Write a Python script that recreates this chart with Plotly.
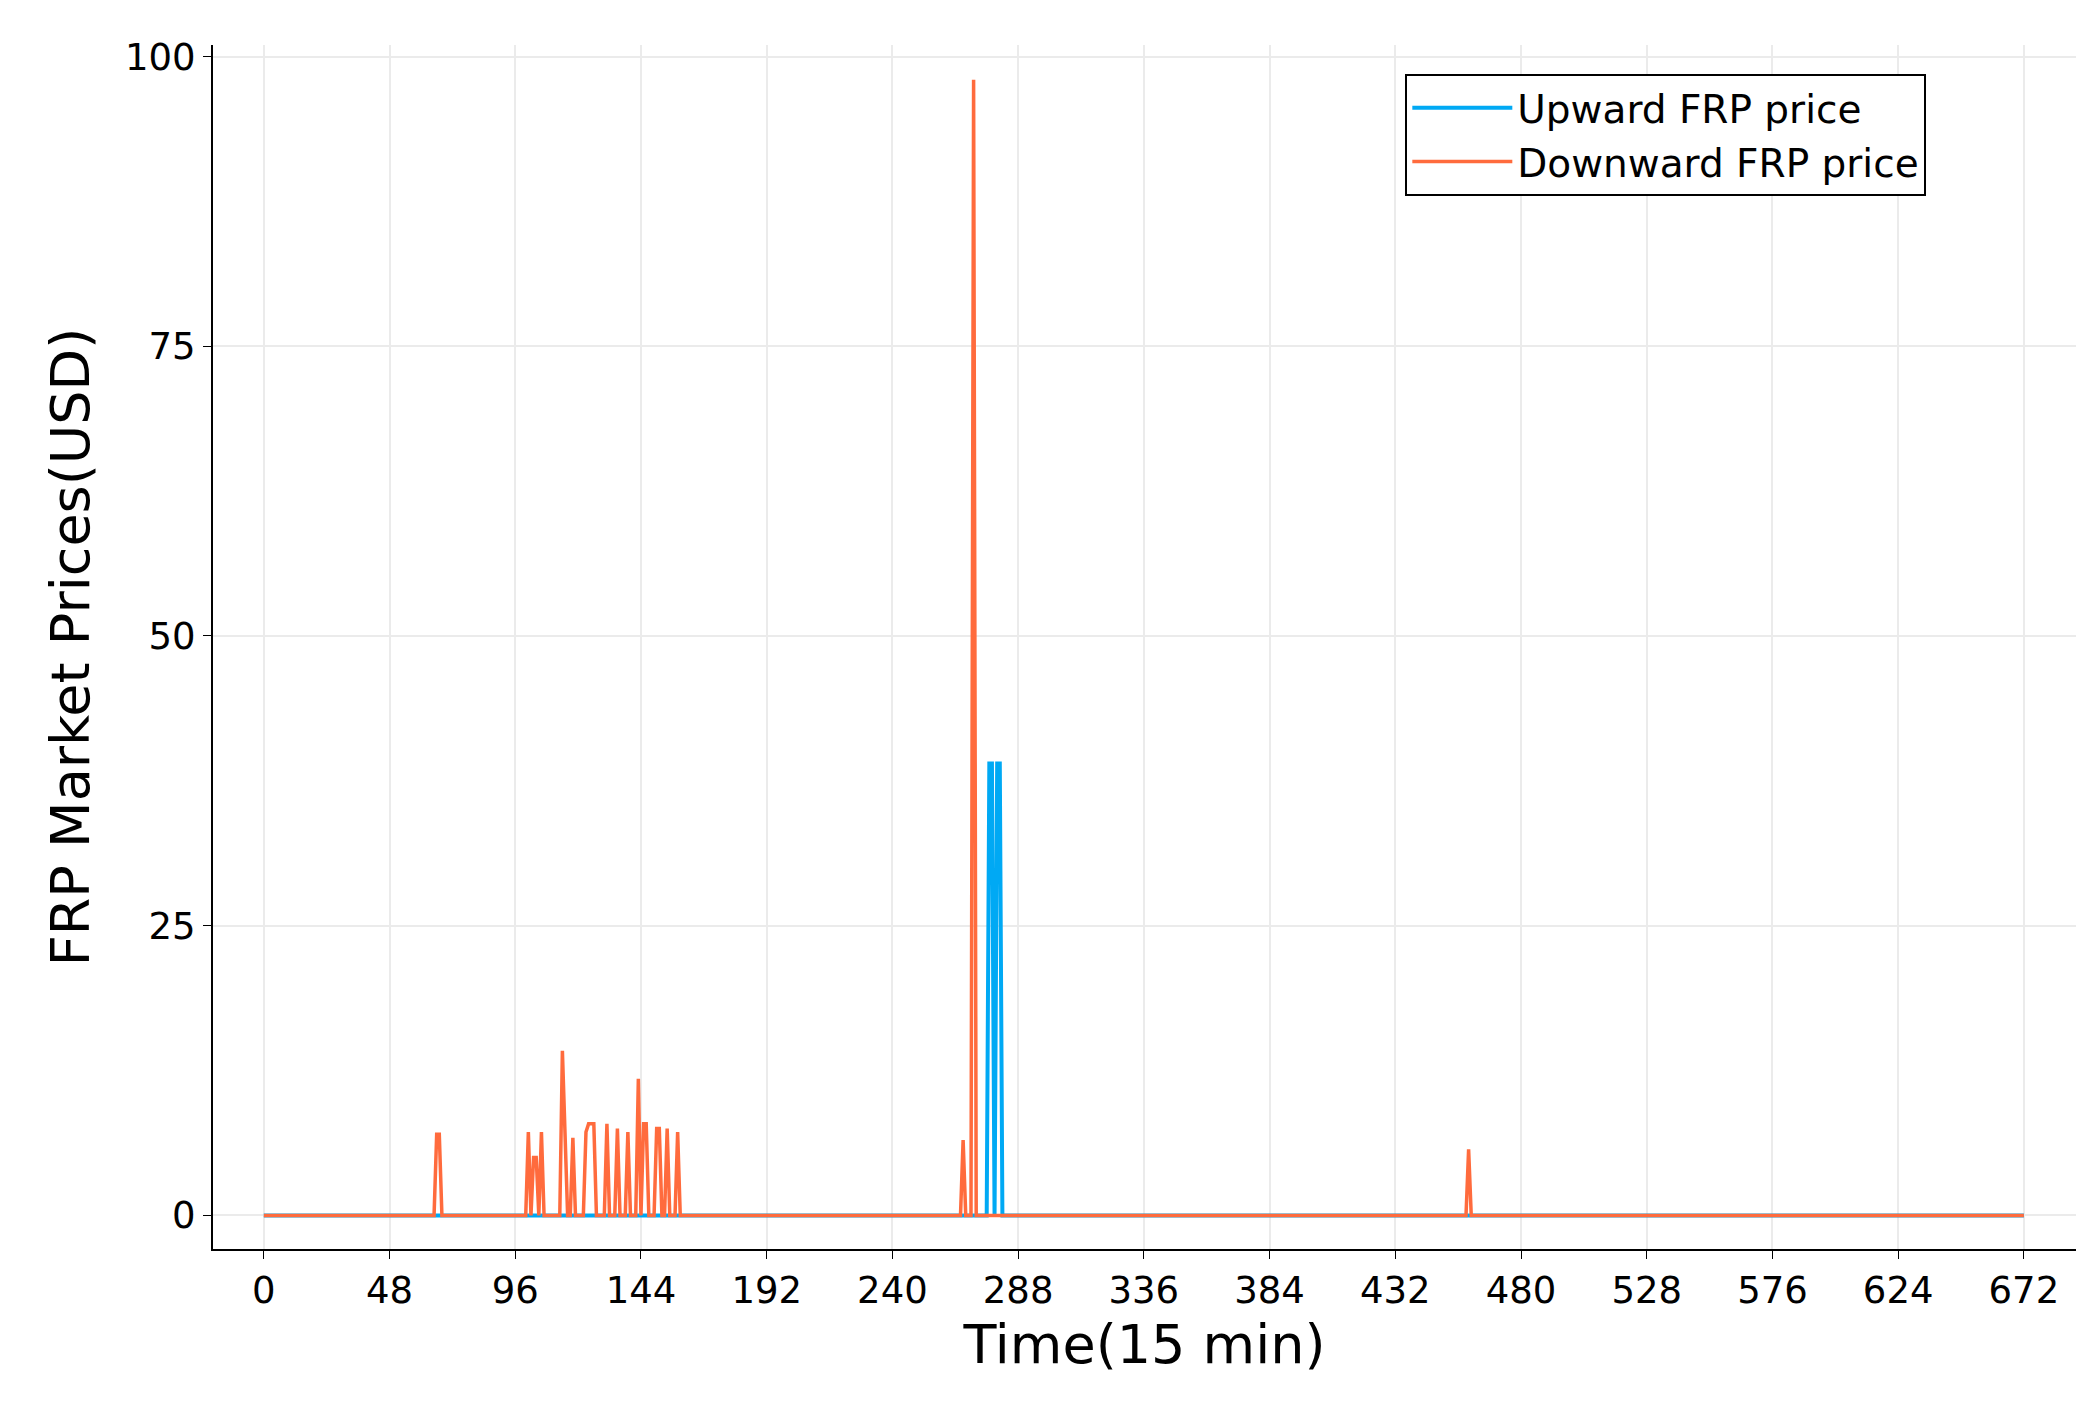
import plotly.graph_objects as go

n_steps = 673
down_idx = [66, 67, 101, 103, 104, 106, 114, 115, 118, 123, 124, 125, 126, 131, 135, 139, 143, 145, 146, 150, 151, 154, 158, 267, 271, 460]
down_val = [7.0, 7.0, 7.2, 5.0, 5.0, 7.2, 14.2, 7.5, 6.7, 7.2, 7.9, 7.9, 7.9, 7.9, 7.5, 7.2, 11.8, 7.9, 7.9, 7.5, 7.5, 7.5, 7.2, 6.5, 98.0, 5.7]
up_idx = [277, 278, 280, 281]
up_val = [39.0, 39.0, 39.0, 39.0]

x = list(range(n_steps))
down = [0.0] * n_steps
for i, v in zip(down_idx, down_val):
    down[i] = v
up = [0.0] * n_steps
for i, v in zip(up_idx, up_val):
    up[i] = v

fig = go.Figure()
fig.add_trace(go.Scatter(x=x, y=up, mode="lines", name="Upward FRP price",
                         line=dict(color="#00a9f4", width=4)))
fig.add_trace(go.Scatter(x=x, y=down, mode="lines", name="Downward FRP price",
                         line=dict(color="#ff6b3d", width=3.5)))

fig.update_layout(
    width=2092, height=1405,
    paper_bgcolor="white", plot_bgcolor="white",
    font=dict(family="DejaVu Sans", color="black", size=37),
    margin=dict(l=205, r=24, t=37, b=164),
    legend=dict(x=0.64, y=0.976, xanchor="left", yanchor="top",
                bordercolor="black", borderwidth=2, bgcolor="white",
                itemwidth=100, font=dict(size=39)),
    xaxis=dict(range=[-19.4, 691.9], tickvals=list(range(0, 673, 48)),
               showgrid=True, gridcolor="#ebebeb", gridwidth=1.5,
               showline=True, linecolor="black", linewidth=2,
               ticks="outside", ticklen=8, tickcolor="black",
               zeroline=False,
               title=dict(text="Time(15 min)", font=dict(size=54), standoff=14)),
    yaxis=dict(range=[-2.9, 101], tickvals=[0, 25, 50, 75, 100],
               showgrid=True, gridcolor="#ebebeb", gridwidth=1.5,
               showline=True, linecolor="black", linewidth=2,
               ticks="outside", ticklen=8, tickcolor="black",
               zeroline=False,
               title=dict(text="FRP Market Prices(USD)", font=dict(size=54), standoff=18)),
)
fig.write_html("out.html")
